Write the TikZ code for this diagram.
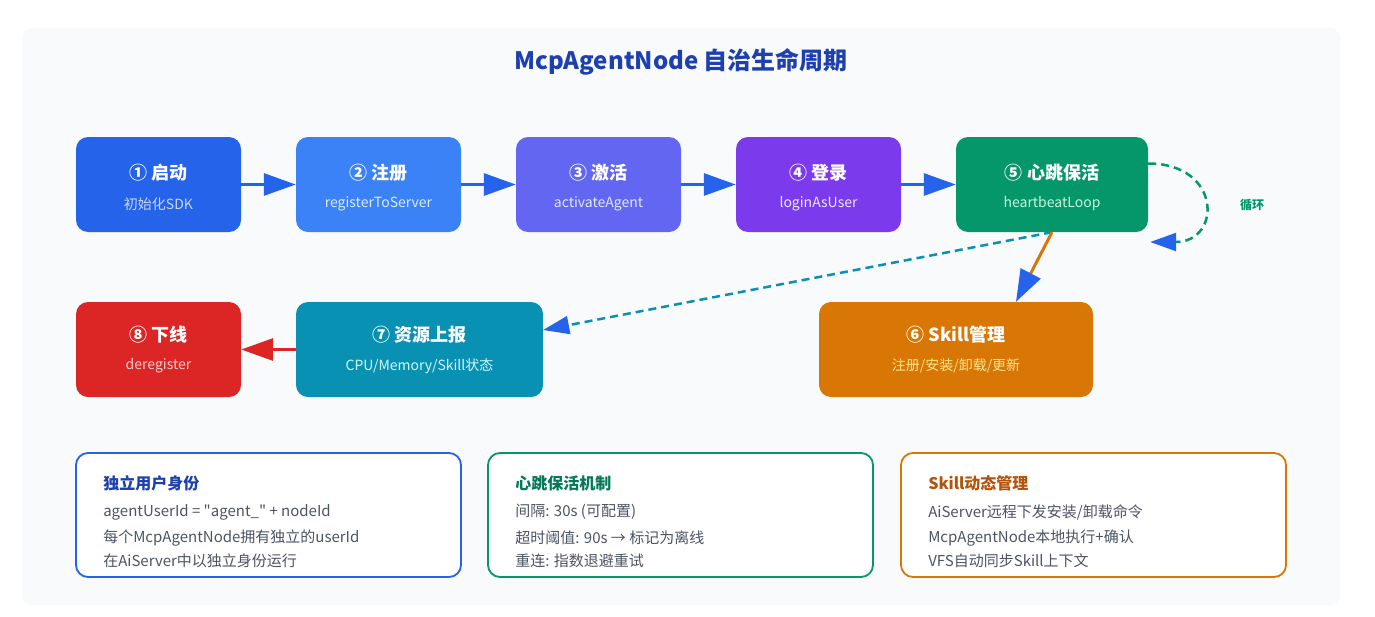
\documentclass[tikz,border=0pt]{standalone}
\usepackage{fontspec}
\setmainfont{Noto Sans CJK SC}[Ligatures=TeXOff]
\usetikzlibrary{arrows.meta,calc}
\definecolor{panel}{HTML}{F8FAFC}
\definecolor{ttl}{HTML}{1E40AF}
\definecolor{c1}{HTML}{2563EB}
\definecolor{c2}{HTML}{3B82F6}
\definecolor{c3}{HTML}{6366F1}
\definecolor{c4}{HTML}{7C3AED}
\definecolor{c5}{HTML}{059669}
\definecolor{c6}{HTML}{D97706}
\definecolor{c7}{HTML}{0891B2}
\definecolor{c8}{HTML}{DC2626}
\definecolor{s1}{HTML}{C7D7FB}
\definecolor{s2}{HTML}{DBEAFE}
\definecolor{s3}{HTML}{E0E7FF}
\definecolor{s4}{HTML}{EDE9FE}
\definecolor{s5}{HTML}{C6F6DD}
\definecolor{s6}{HTML}{FDE68A}
\definecolor{s7}{HTML}{CFFAFE}
\definecolor{s8}{HTML}{FECACA}
\definecolor{bodytxt}{HTML}{4B5563}
\definecolor{tg}{HTML}{047857}
\definecolor{to}{HTML}{B45309}
\begin{document}
\begin{tikzpicture}[x=1pt,y=-1pt,
  stepbox/.style={rounded corners=12pt, draw=none, inner sep=0pt, minimum height=95pt},
  head/.style={text=white, font=\bfseries\fontsize{18}{21}\selectfont, inner sep=0pt},
  sub/.style={font=\fontsize{14}{17}\selectfont, inner sep=0pt},
  infobox/.style={rounded corners=12pt, line width=1.8pt, fill=white, inner sep=0pt,
    minimum width=385pt, minimum height=124pt},
  infottl/.style={anchor=west, font=\bfseries\fontsize{16}{19}\selectfont, inner sep=0pt},
  infoline/.style={anchor=west, font=\fontsize{15}{18}\selectfont, text=bodytxt, inner sep=0pt},
  flow/.style={line width=3pt, -{Triangle[length=32pt,width=22pt,color=c1]}},
  dflow/.style={line width=2.5pt, dash pattern=on 8pt off 5pt, -{Triangle[length=26pt,width=18pt,color=c1]}}
]
\useasboundingbox (0,0) rectangle (1375,616);
\fill[white] (0,0) rectangle (1375,616);
\fill[panel, rounded corners=10pt] (22,28) rectangle (1340,605);

\node[text=ttl, font=\bfseries\fontsize{24}{28}\selectfont] (title) at (681,62) {McpAgentNode 自治生命周期};

% row 1
\node[stepbox, fill=c1, minimum width=165pt] (n1) at (158.5,184.5) {};
\node[stepbox, fill=c2, minimum width=165pt] (n2) at (378.5,184.5) {};
\node[stepbox, fill=c3, minimum width=165pt] (n3) at (598.5,184.5) {};
\node[stepbox, fill=c4, minimum width=165pt] (n4) at (818.5,184.5) {};
\node[stepbox, fill=c5, minimum width=192pt] (n5) at (1052,184.5) {};
% row 2
\node[stepbox, fill=c6, minimum width=274pt] (n6) at (956,349.5) {};
\node[stepbox, fill=c7, minimum width=247pt] (n7) at (419.5,349.5) {};
\node[stepbox, fill=c8, minimum width=165pt] (n8) at (158.5,349.5) {};

\node[head] (h1) at ([yshift=12pt]n1.center) {① 启动};
\node[sub, text=s1] (t1) at ([yshift=-19.5pt]n1.center) {初始化SDK};
\node[head] (h2) at ([yshift=12pt]n2.center) {② 注册};
\node[sub, text=s2] (t2) at ([yshift=-19.5pt]n2.center) {registerToServer};
\node[head] (h3) at ([yshift=12pt]n3.center) {③ 激活};
\node[sub, text=s3] (t3) at ([yshift=-19.5pt]n3.center) {activateAgent};
\node[head] (h4) at ([yshift=12pt]n4.center) {④ 登录};
\node[sub, text=s4] (t4) at ([yshift=-19.5pt]n4.center) {loginAsUser};
\node[head] (h5) at ([yshift=12pt]n5.center) {⑤ 心跳保活};
\node[sub, text=s5] (t5) at ([yshift=-19.5pt]n5.center) {heartbeatLoop};
\node[head] (h6) at ([yshift=14.5pt]n6.center) {⑥ Skill管理};
\node[sub, text=s6] (t6) at ([yshift=-16.5pt]n6.center) {注册/安装/卸载/更新};
\node[head] (h7) at ([yshift=14.5pt]n7.center) {⑦ 资源上报};
\node[sub, text=s7] (t7) at ([yshift=-16.5pt]n7.center) {CPU/Memory/Skill状态};
\node[head] (h8) at ([yshift=14.5pt]n8.center) {⑧ 下线};
\node[sub, text=s8] (t8) at ([yshift=-16.5pt]n8.center) {deregister};

% connectors
\draw[flow, c1] (n1.east) -- (n2.west);
\draw[flow, c1] (n2.east) -- (n3.west);
\draw[flow, c1] (n3.east) -- (n4.west);
\draw[flow, c1] (n4.east) -- (n5.west);
\draw[dflow, c5] ([yshift=21pt]n5.east) .. controls (1222,163.5) and (1222,242) .. ([xshift=2pt,yshift=-57.5pt]n5.east);
\node[text=c5, font=\bfseries\fontsize{12}{14}\selectfont, inner sep=0pt] (loop) at (1252,205) {循环};
\draw[dflow, c7] (n5.south) -- ([yshift=19.5pt]n7.east);
\draw[line width=3pt, c6, -{Triangle[length=32pt,width=22pt,color=c1]}] (n5.south) -- ([xshift=60pt]n6.north);
\draw[line width=3pt, c8, -{Triangle[length=32pt,width=22pt,color=c8]}] (n7.west) -- (n8.east);

% info boxes
\node[infobox, draw=c1] (b1) at (268.5,515) {};
\node[infobox, draw=c5] (b2) at (680.5,515) {};
\node[infobox, draw=c6] (b3) at (1093.5,515) {};

\node[infottl, text=ttl] (b1t) at ([xshift=28pt]b1.west |- 0,483) {独立用户身份};
\node[infoline] (b1a) at ([xshift=28pt]b1.west |- 0,512) {agentUserId = "agent\_" + nodeId};
\node[infoline] (b1b) at ([xshift=28pt]b1.west |- 0,538) {每个McpAgentNode拥有独立的userId};
\node[infoline] (b1c) at ([xshift=28pt]b1.west |- 0,561) {在AiServer中以独立身份运行};

\node[infottl, text=tg] (b2t) at ([xshift=28pt]b2.west |- 0,483) {心跳保活机制};
\node[infoline] (b2a) at ([xshift=28pt]b2.west |- 0,512) {间隔: 30s (可配置)};
\node[infoline] (b2b) at ([xshift=28pt]b2.west |- 0,538) {超时阈值: 90s → 标记为离线};
\node[infoline] (b2c) at ([xshift=28pt]b2.west |- 0,561) {重连: 指数退避重试};

\node[infottl, text=to] (b3t) at ([xshift=28pt]b3.west |- 0,483) {Skill动态管理};
\node[infoline] (b3a) at ([xshift=28pt]b3.west |- 0,512) {AiServer远程下发安装/卸载命令};
\node[infoline] (b3b) at ([xshift=28pt]b3.west |- 0,538) {McpAgentNode本地执行+确认};
\node[infoline] (b3c) at ([xshift=28pt]b3.west |- 0,561) {VFS自动同步Skill上下文};
\end{tikzpicture}
\end{document}
